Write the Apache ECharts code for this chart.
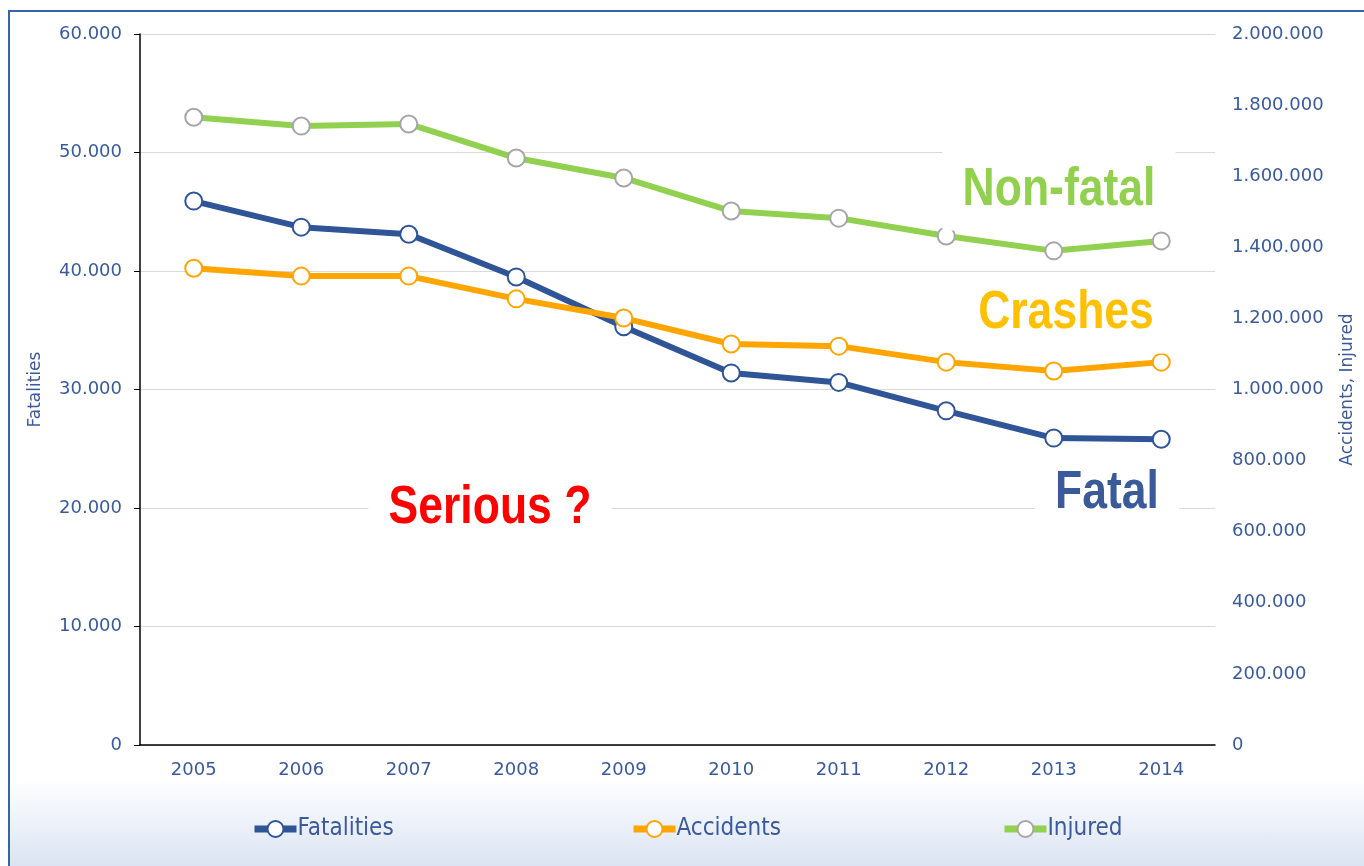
<!DOCTYPE html>
<html>
<head>
<meta charset="utf-8">
<script src="https://cdn.jsdelivr.net/npm/echarts@6/dist/echarts.min.js"></script>
<style>
  html, body { margin: 0; padding: 0; background: #fff; }
  #wrap {
    position: absolute; left: 0; top: 0; width: 1364px; height: 866px; overflow: hidden;
    background: #fff;
  }
  #frame {
    position: absolute; left: 8px; top: 10px; width: 1400px; height: 900px;
    border-left: 2px solid #3a62a8; border-top: 2px solid #3a62a8;
    background: linear-gradient(to bottom, #fff 0px, #fff 765px, #d9e2f2 860px);
  }
  #chart { position: absolute; left: 0; top: 0; width: 1364px; height: 866px; }
</style>
</head>
<body>
<div id="wrap">
  <div id="frame"></div>
  <div id="chart"></div>
</div>
<script>
// years on the x axis
const years = ['2005', '2006', '2007', '2008', '2009', '2010', '2011', '2012', '2013', '2014']
// left axis
const fatalities = [45900, 43700, 43100, 39500, 35300, 31400, 30600, 28200, 25900, 25800]
// right axis
const accidents = [1341000, 1319000, 1319000, 1255000, 1201000, 1128000, 1122000, 1077000, 1052000, 1077000]
const injured = [1766000, 1741000, 1747000, 1651000, 1595000, 1502000, 1482000, 1432000, 1390000, 1418000]

const blue = '#2f5597'
const orange = '#ffa500'
const green = '#92d050'
const labelBlue = '#3a5a9a'
const font = '"DejaVu Sans", sans-serif'

// 60000 -> 60.000
function dots(v) {
  return String(v).replace(/\B(?=(\d{3})+(?!\d))/g, '.')
}

function lineSeries(name, data, color, border, axis) {
  return {
    name: name,
    type: 'line',
    yAxisIndex: axis,
    data: data,
    symbol: 'circle',
    symbolSize: 17,
    showAllSymbol: true,
    lineStyle: { color: color, width: 6 },
    itemStyle: { color: '#fff', borderColor: border, borderWidth: 2 },
    emphasis: { disabled: true },
    animation: false
  }
}

// one legend per entry so each sits where the original has it
function legendAt(name, left) {
  return {
    data: [name],
    left: left,
    bottom: 25,
    padding: 0,
    itemWidth: 42,
    itemHeight: 20,
    lineStyle: { width: 7 },
    textStyle: { color: labelBlue, fontSize: 24, fontFamily: '"DejaVu Sans Condensed", "DejaVu Sans", sans-serif', padding: [0, 0, 0, -4] }
  }
}

function note(text, x, y, color) {
  return {
    type: 'text',
    x: x,
    y: y,
    scaleX: 0.84,
    z: 100,
    style: {
      text: text,
      fill: color,
      font: 'bold 53px "Liberation Sans", Arial, sans-serif',
      align: 'center',
      verticalAlign: 'middle',
      backgroundColor: '#fff',
      padding: [14, 24]
    }
  }
}

const chart = echarts.init(document.getElementById('chart'), null, { renderer: 'canvas' })
chart.setOption({
  animation: false,
  grid: { left: 140, right: 149, top: 34, bottom: 121 },
  legend: [
    legendAt('Fatalities', 251),
    legendAt('Accidents', 630),
    legendAt('Injured', 1001)
  ],
  xAxis: {
    type: 'category',
    data: years,
    axisLine: { lineStyle: { color: '#000', width: 1.5 } },
    axisTick: { length: 7, lineStyle: { color: '#000' } },
    axisLabel: { color: labelBlue, fontSize: 18, margin: 16, fontFamily: font }
  },
  yAxis: [
    {
      type: 'value',
      min: 0,
      max: 60000,
      interval: 10000,
      name: 'Fatalities',
      nameLocation: 'middle',
      nameGap: 96,
      nameRotate: 90,
      nameTextStyle: { color: labelBlue, fontSize: 17, fontFamily: font },
      axisLine: { show: true, lineStyle: { color: '#000', width: 1.5 } },
      axisTick: { show: true, length: 6, lineStyle: { color: '#000' } },
      axisLabel: { color: labelBlue, fontSize: 18, margin: 18, fontFamily: font, formatter: dots },
      splitLine: { lineStyle: { color: '#d9d9d9', width: 1 } }
    },
    {
      type: 'value',
      min: 0,
      max: 2000000,
      interval: 200000,
      name: 'Accidents, Injured',
      nameLocation: 'middle',
      nameGap: 124,
      nameRotate: 90,
      nameTextStyle: { color: labelBlue, fontSize: 17, fontFamily: font },
      axisLine: { show: false },
      axisTick: { show: false },
      axisLabel: { color: labelBlue, fontSize: 18, margin: 17, fontFamily: font, formatter: dots },
      splitLine: { show: false }
    }
  ],
  series: [
    lineSeries('Fatalities', fatalities, blue, blue, 0),
    lineSeries('Accidents', accidents, orange, orange, 1),
    lineSeries('Injured', injured, green, '#a6a6a6', 1)
  ],
  graphic: [
    note('Non-fatal', 1059, 190, green),
    note('Crashes', 1066, 313, '#ffc000'),
    note('Fatal', 1107, 493, '#3b5a9a'),
    note('Serious ?', 490, 508, '#ff0000')
  ]
})
</script>
</body>
</html>
